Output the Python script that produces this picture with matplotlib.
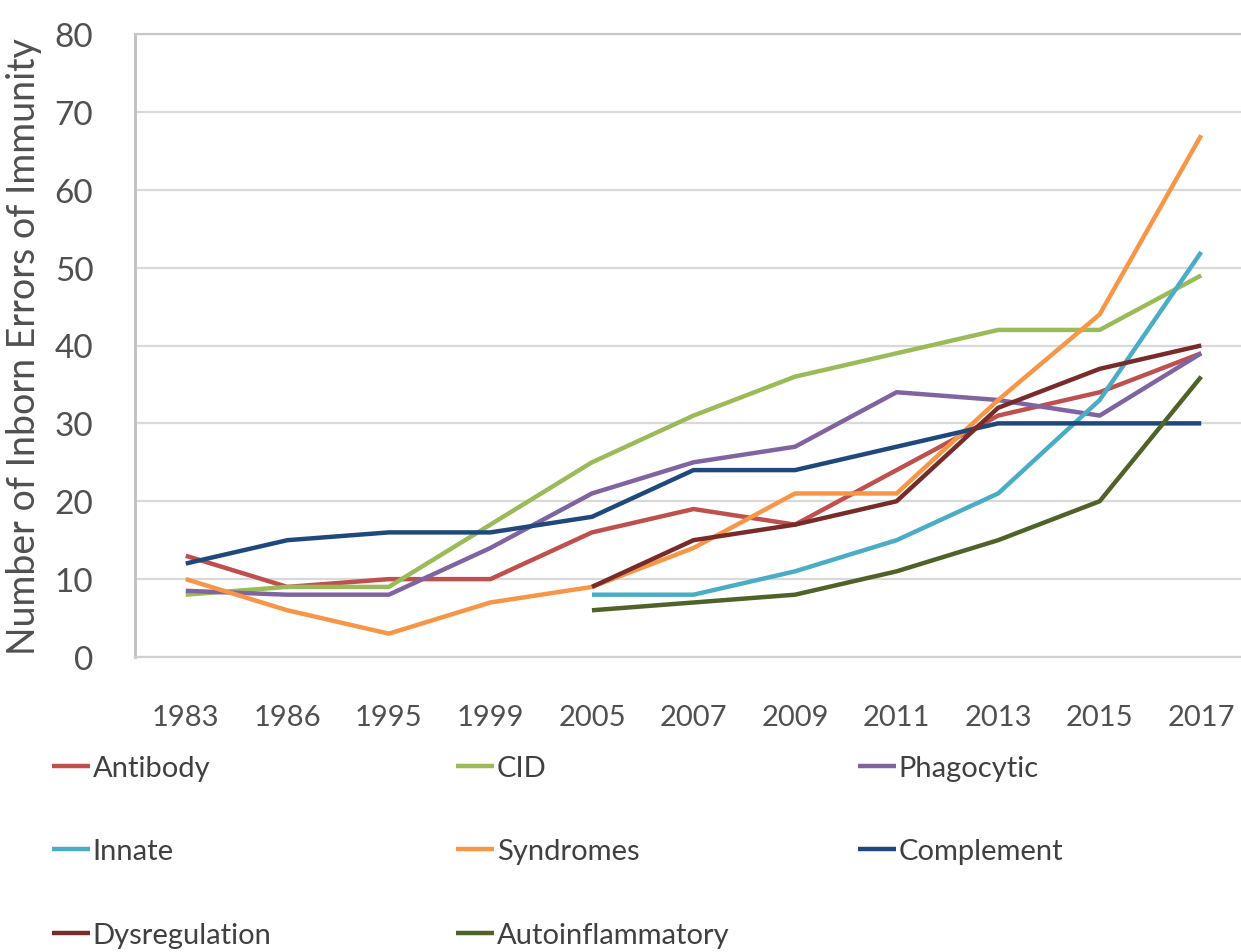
import numpy as np
import matplotlib
matplotlib.use("Agg")
import matplotlib.pyplot as plt

plt.rcParams['font.family'] = ['Lato', 'DejaVu Sans']

nan = np.nan
years = ["1983", "1986", "1995", "1999", "2005", "2007", "2009", "2011", "2013", "2015", "2017"]

antibody = [13, 9, 10, 10, 16, 19, 17, 24, 31, 34, 39]
cid = [8, 9, 9, 17, 25, 31, 36, 39, 42, 42, 49]
phagocytic = [8.5, 8, 8, 14, 21, 25, 27, 34, 33, 31, 39]
innate = [nan, nan, nan, nan, 8, 8, 11, 15, 21, 33, 52]
syndromes = [10, 6, 3, 7, 9, 14, 21, 21, 33, 44, 67]
complement = [12, 15, 16, 16, 18, 24, 24, 27, 30, 30, 30]
dysregulation = [nan, nan, nan, nan, 9, 15, 17, 20, 32, 37, 40]
autoinflammatory = [nan, nan, nan, nan, 6, 7, 8, 11, 15, 20, 36]

series = [
    ("Antibody", antibody, "#C0504D"),
    ("CID", cid, "#9BBB59"),
    ("Phagocytic", phagocytic, "#8064A2"),
    ("Innate", innate, "#4BACC6"),
    ("Syndromes", syndromes, "#F79646"),
    ("Complement", complement, "#1F497D"),
    ("Dysregulation", dysregulation, "#772C2A"),
    ("Autoinflammatory", autoinflammatory, "#4F6228"),
]

fig = plt.figure(figsize=(12.41, 9.53), dpi=100)
ax = fig.add_axes([135 / 1241, 295 / 953, 1117 / 1241, 623 / 953])

x = np.arange(len(years))
handles = {}
for name, vals, col in series:
    ln, = ax.plot(x, vals, color=col, lw=3.2, solid_capstyle="butt", label=name)
    handles[name] = ln

ax.set_xlim(-0.5, len(years) - 0.5)
ax.set_ylim(0, 80)
ax.set_yticks(range(0, 81, 10))
ax.set_xticks(x)
ax.set_xticklabels(years)
ax.grid(axis="y", color="#D9D9D9", lw=1.6)
ax.set_axisbelow(True)
ax.spines["right"].set_visible(False)
ax.spines["top"].set_color("#C8C8C8")
ax.spines["top"].set_linewidth(1.6)
ax.spines["left"].set_color("#BFBFBF")
ax.spines["left"].set_linewidth(2)
ax.spines["bottom"].set_color("#D0D0D0")
ax.spines["bottom"].set_linewidth(1.6)
ax.tick_params(axis="both", length=0, colors="#505050")
ax.tick_params(axis="x", labelsize=21, pad=34)
ax.tick_params(axis="y", labelsize=24, pad=30)
ax.set_ylabel("Number of Inborn Errors of Immunity", fontsize=27, color="#505050")
ax.yaxis.set_label_coords(-0.083, 0.5)

cols = [
    (["Antibody", "Innate", "Dysregulation"], 52),
    (["CID", "Syndromes", "Autoinflammatory"], 456),
    (["Phagocytic", "Complement"], 858),
]
for names, px in cols:
    leg = fig.legend([handles[n] for n in names], names, loc="upper left",
                     bbox_to_anchor=(px / 1241, 1 - 756 / 953), frameon=False,
                     fontsize=21, handlelength=1.3, handletextpad=0.1,
                     labelspacing=1.97, borderaxespad=0, borderpad=0)
    for t in leg.get_texts():
        t.set_color("#404040")

fig.savefig("out.png", dpi=100)
